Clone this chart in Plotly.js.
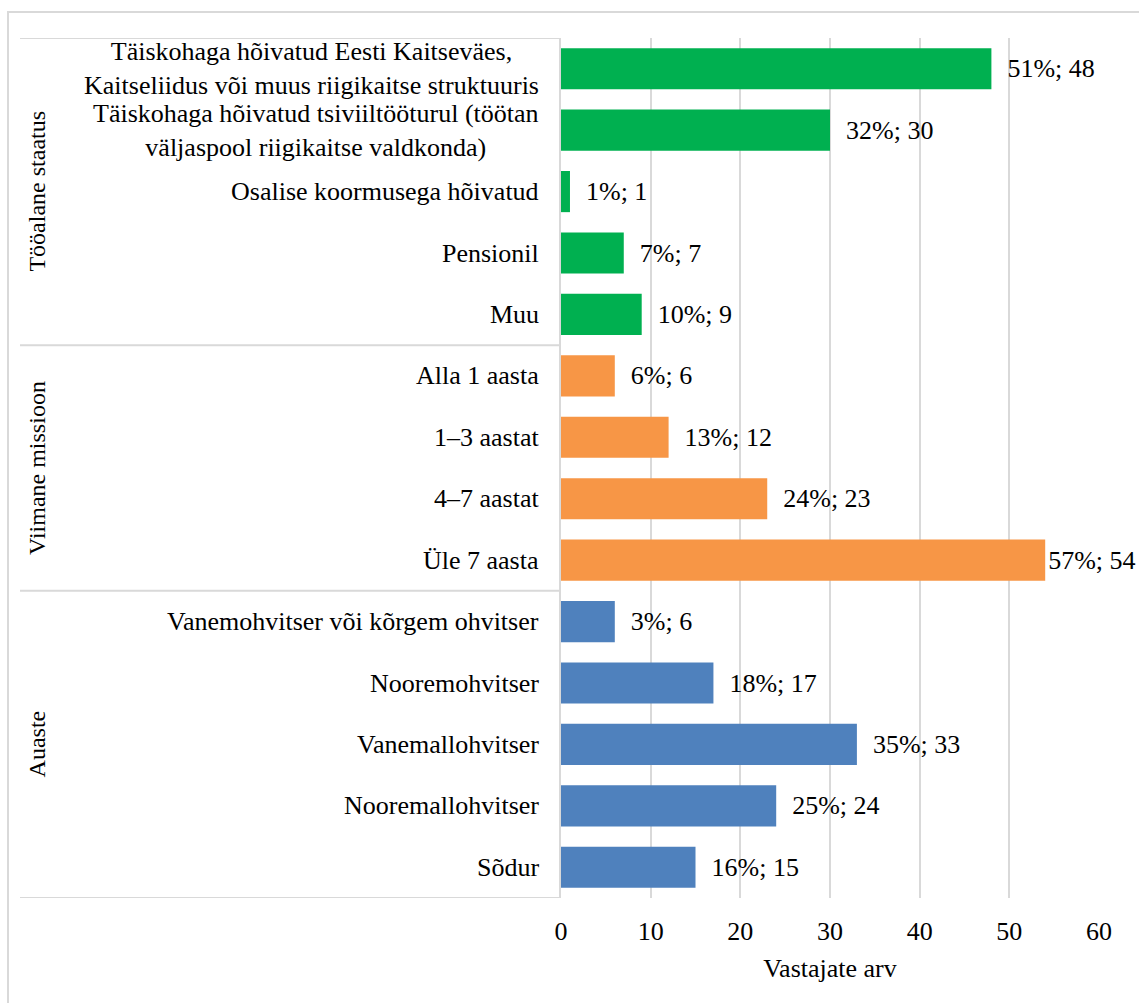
<!DOCTYPE html>
<html>
<head>
<meta charset="utf-8">
<script src="https://cdn.plot.ly/plotly-3.0.1.min.js"></script>
<style>
html,body{margin:0;padding:0;background:#fff;}
#chart{width:1139px;height:1003px;}
#chart svg text{font-family:"Liberation Serif","Times New Roman",serif !important;}
</style>
</head>
<body>
<div id="chart"></div>
<script>
// ---- data ----
const categories = [
  "Täiskohaga hõivatud Eesti Kaitseväes,<br>Kaitseliidus või muus riigikaitse struktuuris",
  "Täiskohaga hõivatud tsiviiltööturul (töötan<br>väljaspool riigikaitse valdkonda)",
  "Osalise koormusega hõivatud",
  "Pensionil",
  "Muu",
  "Alla 1 aasta",
  "1–3 aastat",
  "4–7 aastat",
  "Üle 7 aasta",
  "Vanemohvitser või kõrgem ohvitser",
  "Nooremohvitser",
  "Vanemallohvitser",
  "Nooremallohvitser",
  "Sõdur"
];
const counts = [48, 30, 1, 7, 9, 6, 12, 23, 54, 6, 17, 33, 24, 15];
const percents = [51, 32, 1, 7, 10, 6, 13, 24, 57, 3, 18, 35, 25, 16];
const groupNames = ["Tööalane staatus", "Viimane missioon", "Auaste"];
const groupSizes = [5, 4, 5];
const groupColors = ["#00B050", "#F79646", "#4F81BD"];
const xTicks = [0, 10, 20, 30, 40, 50, 60];

// ---- build ----
const colors = [];
groupSizes.forEach((n, g) => { for (let i = 0; i < n; i++) colors.push(groupColors[g]); });
// labels near the right edge are pulled in against the bar end
const labels = counts.map((c, i) => (c > 50 ? "" : "\u00a0\u00a0") + percents[i] + "%; " + c);

const FONT = "Liberation Serif";
const FS = 26;
const GFS = 24;
const GRID = "#d9d9d9";

const trace = {
  type: "bar",
  orientation: "h",
  x: counts,
  y: categories,
  marker: { color: colors },
  text: labels,
  textposition: "outside",
  constraintext: "none",
  cliponaxis: false,
  textfont: { family: FONT, size: FS, color: "#000" },
  hoverinfo: "x+y"
};

const annotations = categories.map((c) => ({
  xref: "paper", yref: "y", x: 0, y: c, xanchor: "right", yanchor: "middle",
  xshift: -20, text: c, align: "center", showarrow: false,
  font: { family: FONT, size: FS, color: "#000" }
}));

const shapes = [];
let start = 0;
const boundaries = [-0.5];
groupSizes.forEach((n, g) => {
  const mid = start + (n - 1) / 2;
  annotations.push({
    xref: "paper", yref: "y", x: (37 - 561) / 538, y: mid, xanchor: "center", yanchor: "middle",
    text: groupNames[g], textangle: -90, showarrow: false,
    font: { family: FONT, size: GFS, color: "#000" }
  });
  start += n;
  boundaries.push(start - 0.5);
});
boundaries.forEach((b) => {
  shapes.push({
    type: "line", xref: "paper", yref: "y", x0: (20 - 561) / 538, x1: 0, y0: b, y1: b,
    line: { color: GRID, width: 2 }
  });
});
// outer chart border
shapes.push({
  type: "rect", xref: "paper", yref: "paper",
  x0: (8 - 561) / 538, x1: 2, y0: -1, y1: 1 + 26 / 860,
  line: { color: GRID, width: 2 }, fillcolor: "rgba(0,0,0,0)", layer: "below"
});

const layout = {
  width: 1139, height: 1003,
  margin: { l: 561, r: 40, t: 38, b: 105 },
  paper_bgcolor: "#fff", plot_bgcolor: "#fff",
  font: { family: FONT, size: FS, color: "#000" },
  showlegend: false,
  bargap: 0.33,
  xaxis: {
    range: [0, 60], tickvals: xTicks, ticktext: xTicks.map(String),
    showgrid: true, gridcolor: GRID, gridwidth: 2, zeroline: false,
    showline: false, ticks: "", ticklabelstandoff: 15,
    tickfont: { family: FONT, size: FS, color: "#000" },
    title: { text: "Vastajate arv", standoff: 13, font: { family: FONT, size: FS, color: "#000" } },
    fixedrange: true
  },
  yaxis: {
    type: "category", range: [categories.length - 0.5, -0.5],
    showticklabels: false, ticks: "", showgrid: false, zeroline: false,
    showline: true, linecolor: GRID, linewidth: 2, fixedrange: true
  },
  annotations: annotations,
  shapes: shapes
};

Plotly.newPlot("chart", [trace], layout, { displayModeBar: false, staticPlot: true });
</script>
</body>
</html>
